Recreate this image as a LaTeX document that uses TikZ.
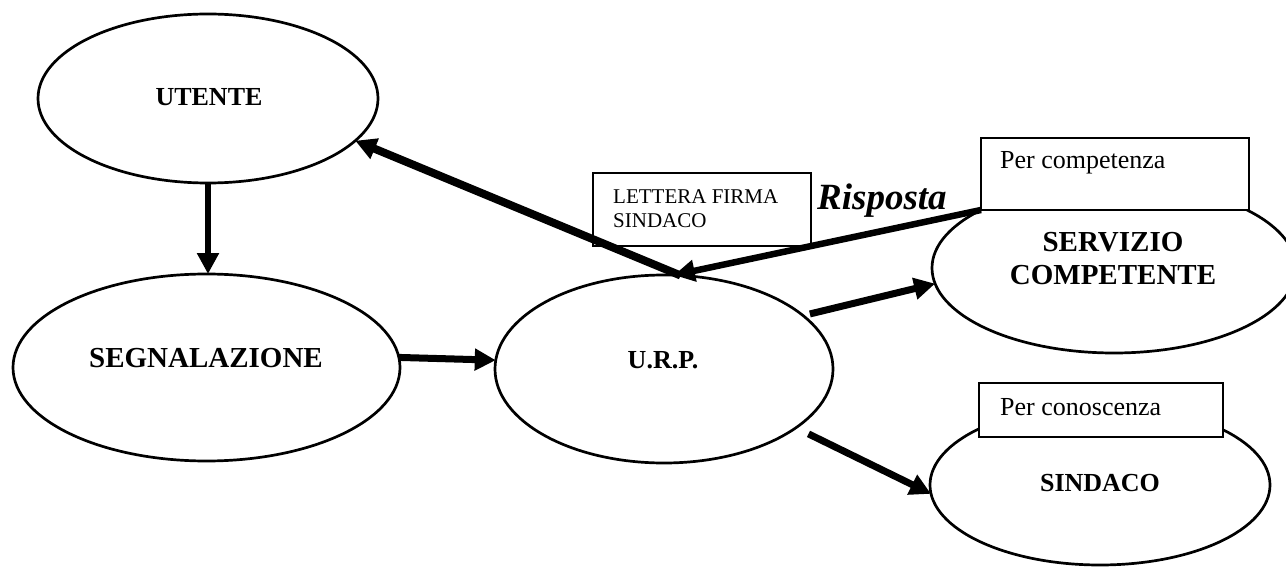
\documentclass[tikz,border=0pt]{standalone}
\usepackage{fontspec}
\setmainfont{Liberation Serif}
\usetikzlibrary{shapes.geometric,arrows.meta}
\begin{document}
\begin{tikzpicture}[x=1pt,y=-1pt,
  oval/.style={draw, ellipse, line width=2.7pt, inner sep=0pt, outer sep=0pt},
  tag/.style={draw, fill=white, line width=2.2pt, inner sep=0pt, outer sep=0pt},
  big/.style={font=\bfseries\fontsize{26}{30}\selectfont, inner sep=0pt, align=center},
  bigger/.style={big, font=\bfseries\fontsize{29}{33}\selectfont},
  note/.style={font=\fontsize{26}{30}\selectfont, inner sep=0pt},
  arr/.style={-{Triangle[length=21pt,width=21pt]}, line width=7pt}]
\clip (0,0) rectangle (1286,567);

% ovals
\node[oval, minimum width=340pt, minimum height=169pt] (utente) at (208,98.5) {};
\node[oval, minimum width=387pt, minimum height=187pt] (segn) at (206.5,367.5) {};
\node[oval, minimum width=338pt, minimum height=188pt] (urp) at (664,369) {};
\node[oval, minimum width=364pt, minimum height=170pt] (serv) at (1114,268) {};
\node[oval, minimum width=340pt, minimum height=160pt] (sind) at (1100,485) {};

% boxed notes
\node[tag, minimum width=218pt, minimum height=73pt] (lettera) at (702,209.5) {};
\node[tag, minimum width=268pt, minimum height=72pt] (pcomp) at (1115,174) {};
\node[tag, minimum width=244pt, minimum height=54pt] (pcon) at (1101,410) {};

% texts
\node[big] (t-utente) at (209,97) {UTENTE};
\node[bigger] (t-segn) at (206,358) {SEGNALAZIONE};
\node[big] (t-urp) at (663,360) {U.R.P.};
\node[bigger] (t-serv) at (1113,259) {SERVIZIO\\COMPETENTE};
\node[big] (t-sind) at (1100,483) {SINDACO};
\node[note, font=\fontsize{21}{24}\selectfont, anchor=west, align=left] (t-lettera) at (613,209) {LETTERA FIRMA\\SINDACO};
\node[note, anchor=base west] (t-pcomp) at (1000,169) {Per competenza};
\node[note, anchor=base west] (t-pcon) at (1000,415) {Per conoscenza};
\node[font=\bfseries\itshape\fontsize{37}{40}\selectfont, inner sep=0pt, anchor=base west] (t-risp) at (817,210) {Risposta};

% connectors
\draw[arr, line width=6.5pt] (utente.south) -- (utente.south |- segn.north);
\draw[arr] (segn.3) -- (urp.177);
\draw[arr, shorten <=7pt] (urp.21) -- (serv.185);
\draw[arr, shorten <=14pt] (urp.-24) -- (sind.183);
\draw[arr, line width=8pt] (urp.80) -- (utente.-16);
\draw[arr, line width=6.5pt] (pcomp.south west) -- (urp.84);
\end{tikzpicture}
\end{document}
